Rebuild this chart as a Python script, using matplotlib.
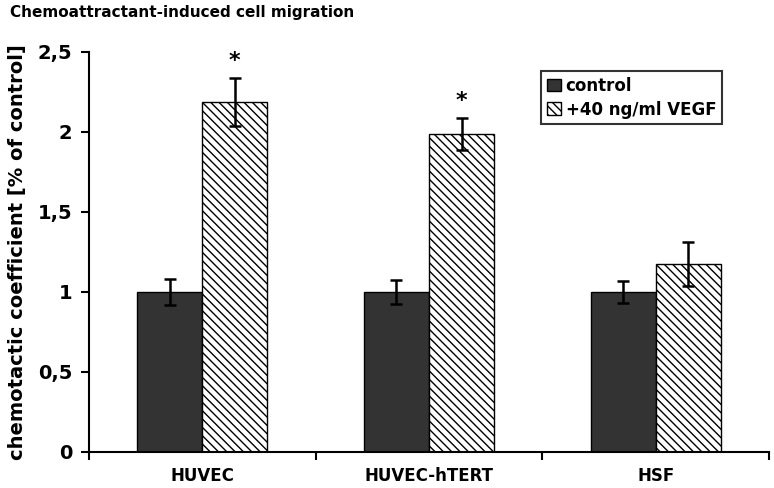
import numpy as np
import matplotlib
matplotlib.use('Agg')
import matplotlib.pyplot as plt

# data
cells = ['HUVEC', 'HUVEC-hTERT', 'HSF']
control = [1.0, 1.0, 1.0]
control_err = [0.08, 0.075, 0.07]
vegf = [2.19, 1.99, 1.175]
vegf_err = [0.15, 0.10, 0.135]
signif = [True, True, False]

plt.rcParams['font.family'] = 'DejaVu Sans'
plt.rcParams['font.weight'] = 'bold'
plt.rcParams['hatch.linewidth'] = 1.0

fig = plt.figure(figsize=(7.74, 4.88), dpi=100)
ax = fig.add_axes([0.115, 0.0738, 0.8785, 0.8197])

x = np.arange(len(cells))
w = 0.287
ax.bar(x - w / 2, control, w, color='#333333', edgecolor='black', linewidth=1,
       label='control', zorder=2)
ax.bar(x + w / 2, vegf, w, color='white', edgecolor='black', linewidth=1,
       hatch='\\\\\\\\', label='+40 ng/ml VEGF', zorder=2)
ax.errorbar(x - w / 2, control, yerr=control_err, fmt='none', ecolor='black',
            elinewidth=1.8, capsize=4, capthick=1.8, zorder=3)
ax.errorbar(x + w / 2, vegf, yerr=vegf_err, fmt='none', ecolor='black',
            elinewidth=1.8, capsize=4, capthick=1.8, zorder=3)

for i in range(len(cells)):
    if signif[i]:
        ax.text(x[i] + w / 2, vegf[i] + vegf_err[i] + 0.04, '*', ha='center',
                va='bottom', fontsize=16, fontweight='bold')

ax.set_xlim(-0.5, 2.5)
ax.set_ylim(0, 2.5)
ax.set_yticks([0, 0.5, 1, 1.5, 2, 2.5])
ax.set_yticklabels(['0', '0,5', '1', '1,5', '2', '2,5'], fontsize=14, fontweight='bold')
ax.set_xticks(x)
ax.set_xticklabels(cells, fontsize=12, fontweight='bold')
ax.set_xticks([-0.5, 0.5, 1.5, 2.5], minor=True)
ax.tick_params(axis='x', which='major', length=0, pad=11)
ax.tick_params(axis='x', which='minor', length=6, width=1.5, direction='out')
ax.tick_params(axis='y', length=6, width=1.5, direction='out', pad=6)

for s in ['top', 'right']:
    ax.spines[s].set_visible(False)
for s in ['left', 'bottom']:
    ax.spines[s].set_linewidth(1.5)

ax.set_ylabel('chemotactic coefficient [% of control]', fontsize=14,
              fontweight='bold', labelpad=8)
fig.text(0.013, 0.975, 'Chemoattractant-induced cell migration', fontsize=11,
         fontweight='bold', va='center', ha='left')

leg = ax.legend(loc='upper right', bbox_to_anchor=(0.931, 0.9525), fontsize=12,
                frameon=True, fancybox=False, handlelength=0.8, handleheight=0.8,
                handletextpad=0.3, borderpad=0.35, labelspacing=0.35,
                borderaxespad=0)
leg.get_frame().set_edgecolor('black')
leg.get_frame().set_linewidth(1.5)
for t in leg.get_texts():
    t.set_fontweight('bold')

fig.savefig('out.png', dpi=100)
